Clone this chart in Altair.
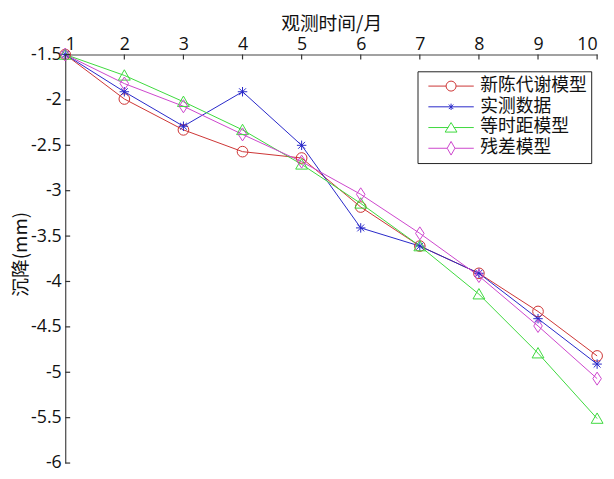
import altair as alt
import pandas as pd

# ---------------- data ----------------
months = [1, 2, 3, 4, 5, 6, 7, 8, 9, 10]
series_names = ["新陈代谢模型", "实测数据", "等时距模型", "残差模型"]
metabolism = [-1.5, -1.99, -2.33, -2.57, -2.64, -3.18, -3.61, -3.91, -4.33, -4.82]
measured = [-1.5, -1.91, -2.29, -1.91, -2.50, -3.41, -3.61, -3.91, -4.41, -4.91]
equal_interval = [-1.5, -1.73, -2.02, -2.33, -2.71, -3.14, -3.61, -4.14, -4.79, -5.51]
residual = [-1.5, -1.82, -2.07, -2.38, -2.68, -3.04, -3.47, -3.94, -4.49, -5.07]
x_ticks = [1, 2, 3, 4, 5, 6, 7, 8, 9, 10]
y_ticks = [-1.5, -2, -2.5, -3, -3.5, -4, -4.5, -5, -5.5, -6]

# ---------------- styles ----------------
colors = ["#cc3333", "#2626c8", "#3cd83c", "#cc44cc"]
# plot markers (unit = sqrt(size)/2 px)
marker_paths = [
    "M0.9,0A0.9,0.9 0 1,1 -0.9,0A0.9,0.9 0 1,1 0.9,0Z",
    "M-0.8,0H0.8M0,-0.8V0.8M-0.58,-0.58L0.58,0.58M-0.58,0.58L0.58,-0.58",
    "M0,-0.95L1,0.8L-1,0.8Z",
    "M0,-1.1L0.72,0L0,1.1L-0.72,0Z",
]
# legend symbols: line + marker (unit = 23 px)
legend_paths = [
    "M-1,0H-0.22M0.22,0H1M0.22,0A0.22,0.22 0 1,1 -0.22,0A0.22,0.22 0 1,1 0.22,0Z",
    "M-1,0H1M0,-0.14V0.14M-0.1,-0.1L0.1,0.1M-0.1,0.1L0.1,-0.1",
    "M-1,0H-0.12M0.12,0H1M0,-0.22L0.26,0.2L-0.26,0.2Z",
    "M-1,0H-0.17M0.17,0H1M0,-0.3L0.17,0L0,0.3L-0.17,0Z",
]

rows = []
for name, vals in zip(series_names, [metabolism, measured, equal_interval, residual]):
    for m, v in zip(months, vals):
        rows.append({"月": m, "沉降": v, "模型": name})
df = pd.DataFrame(rows)
xt = pd.DataFrame({"月": x_ticks})
yt = pd.DataFrame({"沉降": y_ticks})

W, H = 539, 414
LAB = "Open Sans"
CJK = "Noto Sans CJK SC"

xscale = alt.Scale(domain=[1, 10], nice=False, zero=False)
yscale = alt.Scale(domain=[-6, -1.5], nice=False, zero=False)

xaxis = alt.Axis(
    orient="top", values=x_ticks, format="d", ticks=False, grid=False,
    domainColor="#444444", domainWidth=1.2,
    labelFont=LAB, labelFontSize=18, labelColor="#111111", labelPadding=1,
    title="观测时间/月", titleFont=CJK, titleFontSize=19, titleFontWeight="normal",
    titleColor="#111111", titleX=W / 2, titleY=-31, titleAlign="center",
    titleBaseline="middle",
)
yaxis = alt.Axis(
    orient="left", values=y_ticks, labelExpr="toString(datum.value)", ticks=False,
    grid=False, domainColor="#444444", domainWidth=1.2,
    labelFont=LAB, labelFontSize=18, labelColor="#111111", labelPadding=4,
    title="沉降(mm)", titleFont=CJK, titleFontSize=19, titleFontWeight="normal",
    titleColor="#111111", titleAngle=270, titleX=-45, titleY=202,
    titleAlign="center", titleBaseline="middle",
)

color_plot = alt.Color("模型:N", scale=alt.Scale(domain=series_names, range=colors), legend=None)

lines = alt.Chart(df).mark_line(strokeWidth=1).encode(
    x=alt.X("月:Q", scale=xscale, axis=xaxis),
    y=alt.Y("沉降:Q", scale=yscale, axis=yaxis),
    color=color_plot,
    detail="模型:N",
)

points = alt.Chart(df).mark_point(filled=False, strokeWidth=1, size=144, opacity=1).encode(
    x=alt.X("月:Q", scale=xscale),
    y=alt.Y("沉降:Q", scale=yscale),
    color=color_plot,
    shape=alt.Shape("模型:N", scale=alt.Scale(domain=series_names, range=marker_paths), legend=None),
)

leg = alt.Legend(
    title=None, orient="none", legendX=357, legendY=17, direction="vertical",
    strokeColor="#222222", fillColor="white", padding=4.5,
    symbolSize=2116, symbolStrokeWidth=1, symbolOffset=6, clipHeight=21, rowPadding=0,
    labelFont=CJK, labelFontSize=18, labelColor="#111111", labelOffset=6,
    labelLimit=300,
)

legend_layer = alt.Chart(df).transform_filter("datum['月'] > 100").mark_point(
    filled=False, strokeWidth=1, size=2116, opacity=1
).encode(
    x=alt.X("月:Q", scale=xscale),
    y=alt.Y("沉降:Q", scale=yscale),
    color=alt.Color("模型:N", scale=alt.Scale(domain=series_names, range=colors), legend=leg),
    shape=alt.Shape("模型:N", scale=alt.Scale(domain=series_names, range=legend_paths), legend=leg),
)

xticks_layer = alt.Chart(xt).mark_rule(color="#333333", strokeWidth=1.2).encode(
    x=alt.X("月:Q", scale=xscale), y=alt.value(0), y2=alt.value(5)
)
yticks_layer = alt.Chart(yt).mark_rule(color="#333333", strokeWidth=1.2).encode(
    y=alt.Y("沉降:Q", scale=yscale), x=alt.value(0), x2=alt.value(5)
)

chart = alt.layer(
    lines, points, xticks_layer, yticks_layer, legend_layer
).resolve_scale(
    color="independent", shape="independent"
).properties(
    width=W, height=H,
    autosize=alt.AutoSizeParams(type="none"),
    padding={"left": 58, "top": 44, "right": 9, "bottom": 11},
    background="white",
).configure_view(stroke=None)

chart.save("out.html", embed_options={"renderer": "svg", "actions": False})
